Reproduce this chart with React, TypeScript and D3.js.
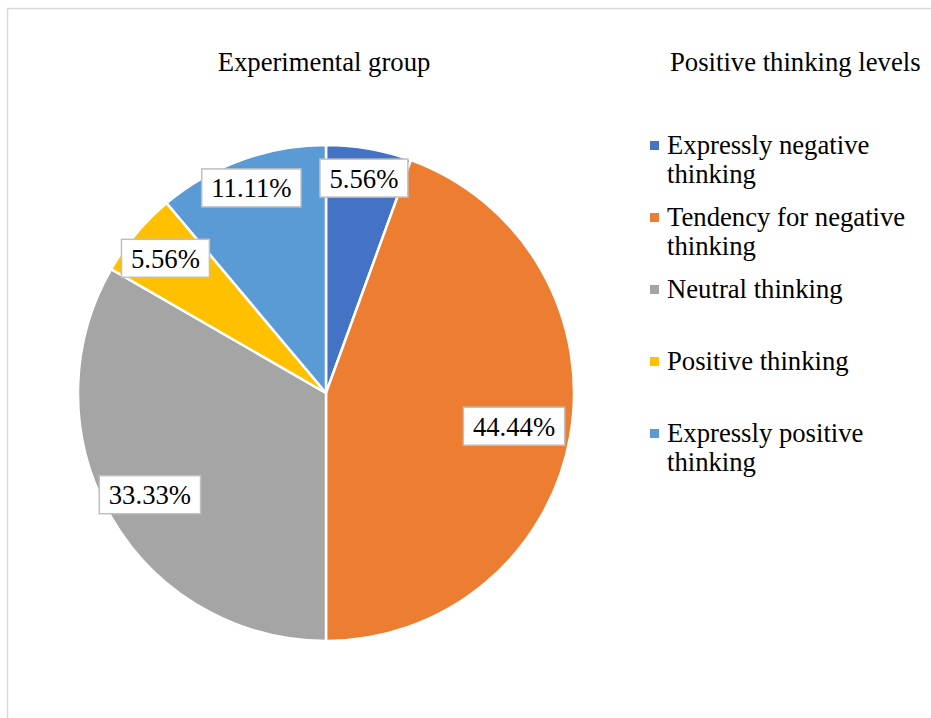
import React from "react";
import * as d3 from "d3";

const categories = [
  "Expressly negative thinking",
  "Tendency for negative thinking",
  "Neutral thinking",
  "Positive thinking",
  "Expressly positive thinking",
];
const percentages = [5.56, 44.44, 33.33, 5.56, 11.11];
const colors = ["#4472C4", "#ED7D31", "#A5A5A5", "#FFC000", "#5B9BD5"];
const labelRadiusFactors = [0.88, 0.77, 0.82, 0.845, 0.88];
const chartTitle = "Experimental group";
const legendTitle = "Positive thinking levels";

const W = 931;
const H = 718;
const FONT = "Liberation Serif";
const FS = 26.7;

function measure(text: string): number {
  const c = document.createElement("canvas").getContext("2d");
  if (!c) return text.length * FS * 0.45;
  c.font = `${FS}px Liberation Serif`;
  return c.measureText(text).width;
}

function wrap(text: string, maxW: number): string[] {
  const words = text.split(" ");
  const lines: string[] = [];
  let cur = "";
  for (const w of words) {
    const t = cur ? cur + " " + w : w;
    if (cur && measure(t) > maxW) {
      lines.push(cur);
      cur = w;
    } else cur = t;
  }
  if (cur) lines.push(cur);
  return lines;
}

export default function App() {
  const cx = 326;
  const cy = 393;
  const r = 248;
  const pie = d3.pie<number>().sort(null).value((d) => d);
  const arcs = pie(percentages);
  const arcGen = d3.arc<d3.PieArcDatum<number>>().innerRadius(0).outerRadius(r);
  const fmt = (v: number) => v.toFixed(2) + "%";

  const legendX = 650;
  const legendY0 = 154;
  const legendStep = 72;
  const lineH = 29;
  const ts = { fontFamily: FONT, fontSize: FS };

  return (
    <svg
      width={W}
      height={H}
      style={{ position: "fixed", left: 0, top: 0, background: "#fff" }}
    >
      <rect x={0} y={0} width={W} height={H} fill="#fff" />
      <rect x={7.5} y={8.5} width={W + 20} height={H + 20} fill="none" stroke="#d9d9d9" strokeWidth={1.5} />
      <text x={324} y={71} style={ts} textAnchor="middle" fill="#000">
        {chartTitle}
      </text>
      <text x={670} y={71} style={ts} fill="#000">
        {legendTitle}
      </text>
      <g transform={`translate(${cx},${cy})`}>
        {arcs.map((a, i) => (
          <path key={i} d={arcGen(a) || ""} fill={colors[i]} stroke="#fff" strokeWidth={2.5} strokeLinejoin="round" />
        ))}
        {arcs.map((a, i) => {
          const rr = r * labelRadiusFactors[i];
          const lab = d3.arc<d3.PieArcDatum<number>>().innerRadius(rr).outerRadius(rr);
          const [lx, ly] = lab.centroid(a);
          const txt = fmt(percentages[i]);
          const tw = measure(txt);
          const bw = tw + 19;
          const bh = 38;
          return (
            <g key={"l" + i}>
              <rect x={lx - bw / 2} y={ly - bh / 2} width={bw} height={bh} fill="#fff" stroke="#bfbfbf" strokeWidth={1.5} />
              <text x={lx} y={ly + 9.5} style={ts} textAnchor="middle" fill="#000">
                {txt}
              </text>
            </g>
          );
        })}
      </g>
      {categories.map((c, i) => {
        const lines = wrap(c, W - 667 - 4);
        const by = legendY0 + i * legendStep;
        return (
          <g key={"lg" + i}>
            <rect x={legendX} y={by - 13} width={9} height={9} fill={colors[i]} />
            <text x={667} y={by} style={ts} fill="#000">
              {lines.map((ln, j) => (
                <tspan key={j} x={667} y={by + j * lineH}>
                  {ln}
                </tspan>
              ))}
            </text>
          </g>
        );
      })}
    </svg>
  );
}
